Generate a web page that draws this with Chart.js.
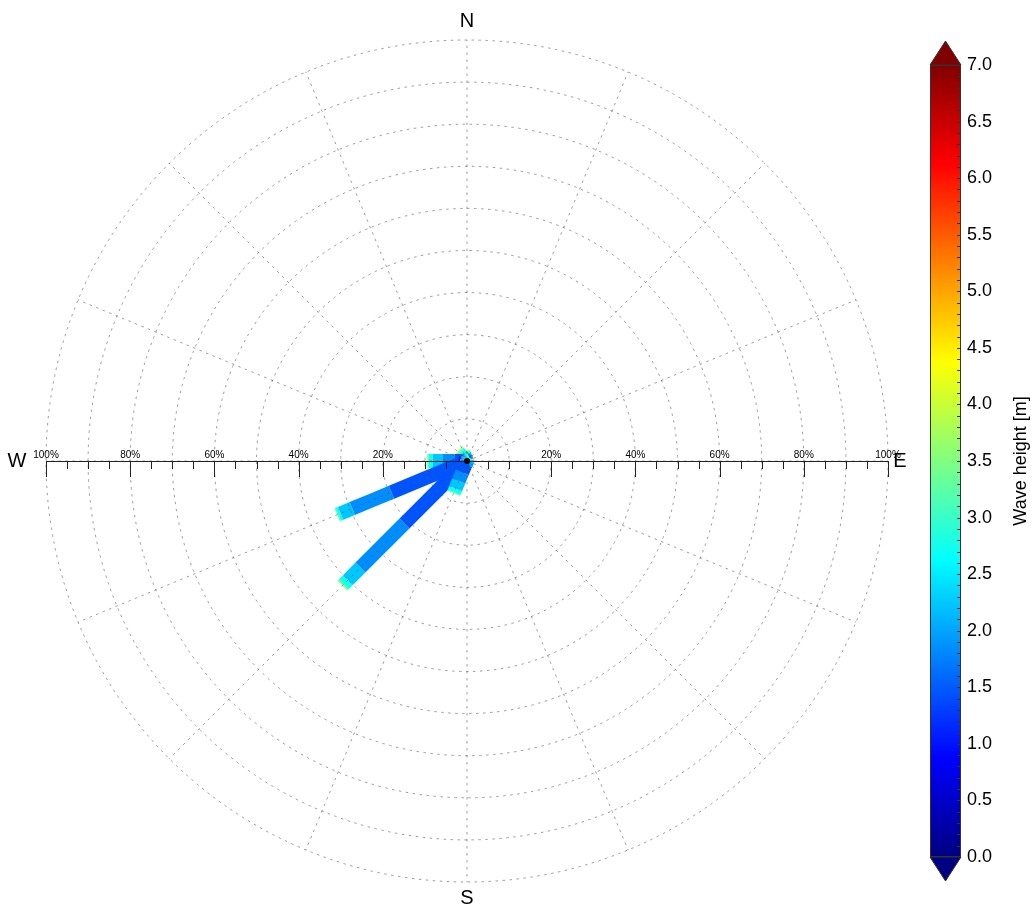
<!DOCTYPE html>
<html><head><meta charset="utf-8">
<script src="https://cdn.jsdelivr.net/npm/chart.js@4.4.1/dist/chart.umd.min.js"></script>
<style>
html,body{margin:0;padding:0;background:#fff;overflow:hidden}
#wrap{position:relative;width:1035px;height:905px}
#rose{position:absolute;left:0;top:0}
#cbar{position:absolute;left:920px;top:0}
</style></head><body>
<div id="wrap"><canvas id="rose" width="1035" height="905"></canvas><canvas id="cbar" width="115" height="905"></canvas></div>
<script>
// ---------------- DATA ----------------
const directions = ['N','NNE','NE','ENE','E','ESE','SE','SSE','S','SSW','SW','WSW','W','WNW','NW','NNW'];
const bearings   = [0,22.5,45,67.5,90,112.5,135,157.5,180,202.5,225,247.5,270,292.5,315,337.5];
const heightClasses = ['0.5-1.0','1.0-1.5','1.5-2.0','2.0-2.5','2.5-3.0','3.0-3.5','3.5-4.0','4.0-4.5'];
const classColorValue = [0.9,1.45,1.85,2.25,2.75,3.2,3.7,4.2];
// frequency (%) per direction for each wave-height class
//                  N    NNE  NE   ENE  E    ESE  SE   SSE  S    SSW  SW    WSW   W    WNW  NW   NNW
const f_05_10 = [0,   0,   0,   0,   0,   0,   0,   0,   0,   0.4, 1.5,  1.5,  0.5, 0,   0,   0];
const f_10_15 = [0,   0,   0.1, 0.1, 0,   0,   0,   0,   0,   2.5, 19.5, 17.9, 2.4, 0,   0.4, 0.2];
const f_15_20 = [0.1, 0.1, 0.2, 0.1, 0,   0,   0,   0,   0,   2.2, 14.8, 10.1, 2.8, 0,   0.6, 0.4];
const f_20_25 = [0.1, 0.2, 0.3, 0.2, 0,   0,   0,   0,   0,   2.0, 4.2,  3.0,  2.4, 0,   0.8, 0.6];
const f_25_30 = [0.1, 0.1, 0.2, 0.2, 0,   0,   0,   0,   0,   0.9, 1.3,  0.6,  1.0, 0,   0.7, 0.5];
const f_30_35 = [0.1, 0.1, 0.1, 0.1, 0,   0,   0,   0,   0,   0.25,0.4,  0.25, 0.3, 0,   0.4, 0.4];
const f_35_40 = [0.1, 0.1, 0.1, 0.1, 0,   0,   0,   0,   0,   0.05,0.15, 0.05, 0.1, 0,   0.2, 0.2];
const f_40_45 = [0,   0,   0,   0,   0,   0,   0,   0,   0,   0,   0.05, 0,    0.05,0,   0.1, 0.1];
const classFreqs = [f_05_10,f_10_15,f_15_20,f_20_25,f_25_30,f_30_35,f_35_40,f_40_45];

const ringValues = [10,20,30,40,50,60,70,80,90,100];
const axisLabelValues = [-100,-80,-60,-40,-20,20,40,60,80,100];
const cbarMin = 0, cbarMax = 7, cbarStep = 0.5;

// ---------------- HELPERS ----------------
function jet(t){
  const c = x => Math.max(0, Math.min(1, x));
  const r = c(1.5 - Math.abs(4*t - 3)), g = c(1.5 - Math.abs(4*t - 2)), b = c(1.5 - Math.abs(4*t - 1));
  return `rgb(${Math.round(r*255)},${Math.round(g*255)},${Math.round(b*255)})`;
}
const FONT = "'Liberation Sans', Arial, Helvetica, sans-serif";
Chart.defaults.font.family = FONT;

// ---------------- ROSE DATASETS ----------------
const datasets = [];
directions.forEach((d, i) => {
  let r0 = 0;
  const th = bearings[i] * Math.PI / 180;
  classFreqs.forEach((arr, k) => {
    const f = arr[i];
    if (!f) return;
    const r1 = r0 + f;
    const col = jet(classColorValue[k] / cbarMax);
    datasets.push({
      label: d + ' ' + heightClasses[k],
      data: [{x: r0*Math.sin(th), y: r0*Math.cos(th)}, {x: r1*Math.sin(th), y: r1*Math.cos(th)}],
      showLine: true, borderColor: col, backgroundColor: col,
      borderWidth: 14, borderCapStyle: 'butt', borderJoinStyle: 'bevel',
      pointRadius: 0, pointHoverRadius: 0, tension: 0.000001, fill: false
    });
    r0 = r1;
  });
});

const roseGrid = {
  id: 'roseGrid',
  afterDatasetsDraw(chart){
    const {ctx} = chart;
    const xs = chart.scales.x, ys = chart.scales.y;
    const cx = xs.getPixelForValue(0), cy = ys.getPixelForValue(0);
    const rad = v => xs.getPixelForValue(v) - cx;
    const R = rad(100);
    ctx.save();
    // dashed rings & spokes
    ctx.setLineDash([2.5, 4.5]);
    ctx.strokeStyle = 'rgba(90,90,90,0.75)';
    ctx.lineWidth = 0.8;
    ringValues.forEach(v => { ctx.beginPath(); ctx.arc(cx, cy, rad(v), 0, Math.PI*2); ctx.stroke(); });
    bearings.forEach(b => {
      const t = b * Math.PI / 180;
      ctx.beginPath(); ctx.moveTo(cx, cy); ctx.lineTo(cx + R*Math.sin(t), cy - R*Math.cos(t)); ctx.stroke();
    });
    ctx.setLineDash([]);
    // horizontal percentage axis
    ctx.strokeStyle = '#222'; ctx.lineWidth = 1;
    ctx.beginPath(); ctx.moveTo(xs.getPixelForValue(-100), cy + 0.5); ctx.lineTo(xs.getPixelForValue(100), cy + 0.5); ctx.stroke();
    for (let v = -100; v <= 100; v += 5) {
      if (v === 0) continue;
      const x = Math.round(xs.getPixelForValue(v)) + 0.5;
      const len = (v % 20 === 0) ? 16 : 8;
      ctx.beginPath(); ctx.moveTo(x, cy); ctx.lineTo(x, cy + len); ctx.stroke();
    }
    ctx.fillStyle = '#000';
    ctx.font = '10px ' + FONT;
    ctx.textAlign = 'center'; ctx.textBaseline = 'alphabetic';
    axisLabelValues.forEach(v => ctx.fillText(Math.abs(v) + '%', xs.getPixelForValue(v), cy - 3));
    // center dot
    ctx.beginPath(); ctx.arc(cx, cy, 3, 0, Math.PI*2); ctx.fill();
    // compass letters
    ctx.font = '20px ' + FONT; ctx.textBaseline = 'middle';
    ctx.fillText('N', cx, cy - R - 19);
    ctx.fillText('S', cx, cy + R + 16);
    ctx.fillText('W', cx - R - 29, cy);
    ctx.fillText('E', cx + R + 12, cy);
    ctx.restore();
  }
};

new Chart(document.getElementById('rose'), {
  type: 'scatter',
  data: { datasets },
  options: {
    responsive: false, maintainAspectRatio: false, animation: false, devicePixelRatio: 1,
    layout: { padding: { left: 46, right: 147, top: 40, bottom: 23 } },
    scales: {
      x: { type: 'linear', min: -100, max: 100, display: false },
      y: { type: 'linear', min: -100, max: 100, display: false }
    },
    plugins: { legend: { display: false }, tooltip: { enabled: false } }
  },
  plugins: [roseGrid]
});

// ---------------- COLORBAR ----------------
const cbarDeco = {
  id: 'cbarDeco',
  afterDraw(chart){
    const {ctx, chartArea: a} = chart;
    const ys = chart.scales.y;
    const mid = (a.left + a.right) / 2;
    ctx.save();
    // minor ticks inside bar
    ctx.strokeStyle = '#333'; ctx.lineWidth = 1;
    for (let i = 1; i < 70; i++) {
      const y = Math.round(ys.getPixelForValue(i / 10)) + 0.5;
      ctx.beginPath(); ctx.moveTo(a.right - 4, y); ctx.lineTo(a.right, y); ctx.stroke();
    }
    // extension triangles
    ctx.fillStyle = jet(1);
    ctx.beginPath(); ctx.moveTo(a.left, a.top); ctx.lineTo(a.right, a.top); ctx.lineTo(mid, a.top - 24); ctx.closePath(); ctx.fill();
    ctx.stroke();
    ctx.fillStyle = jet(0);
    ctx.beginPath(); ctx.moveTo(a.left, a.bottom); ctx.lineTo(a.right, a.bottom); ctx.lineTo(mid, a.bottom + 24); ctx.closePath(); ctx.fill();
    ctx.stroke();
    ctx.strokeRect(a.left + 0.5, a.top + 0.5, a.right - a.left - 1, a.bottom - a.top - 1);
    // title
    ctx.fillStyle = '#000';
    ctx.font = '18px ' + FONT; ctx.textAlign = 'center'; ctx.textBaseline = 'middle';
    ctx.translate(101, (a.top + a.bottom) / 2);
    ctx.rotate(-Math.PI / 2);
    ctx.fillText('Wave height [m]', 0, 0);
    ctx.restore();
  }
};

new Chart(document.getElementById('cbar'), {
  type: 'bar',
  data: {
    labels: [''],
    datasets: [{
      data: [[cbarMin, cbarMax]],
      barPercentage: 1, categoryPercentage: 1, borderWidth: 0,
      backgroundColor: (c) => {
        const a = c.chart.chartArea;
        if (!a) return '#888';
        const g = c.chart.ctx.createLinearGradient(0, a.bottom, 0, a.top);
        for (let i = 0; i <= 40; i++) g.addColorStop(i / 40, jet(i / 40));
        return g;
      }
    }]
  },
  options: {
    responsive: false, maintainAspectRatio: false, animation: false, devicePixelRatio: 1,
    layout: { padding: { left: 10, right: 0, top: 65, bottom: 48 } },
    scales: {
      x: { display: false },
      y: {
        position: 'right', min: cbarMin, max: cbarMax,
        afterFit: (s) => { s.width = 74; },
        ticks: { stepSize: cbarStep, padding: 6, color: '#000', font: { size: 18 }, callback: v => Number(v).toFixed(1) },
        grid: { display: false, drawTicks: false },
        border: { display: false }
      }
    },
    plugins: { legend: { display: false }, tooltip: { enabled: false } }
  },
  plugins: [cbarDeco]
});
</script>
</body></html>
